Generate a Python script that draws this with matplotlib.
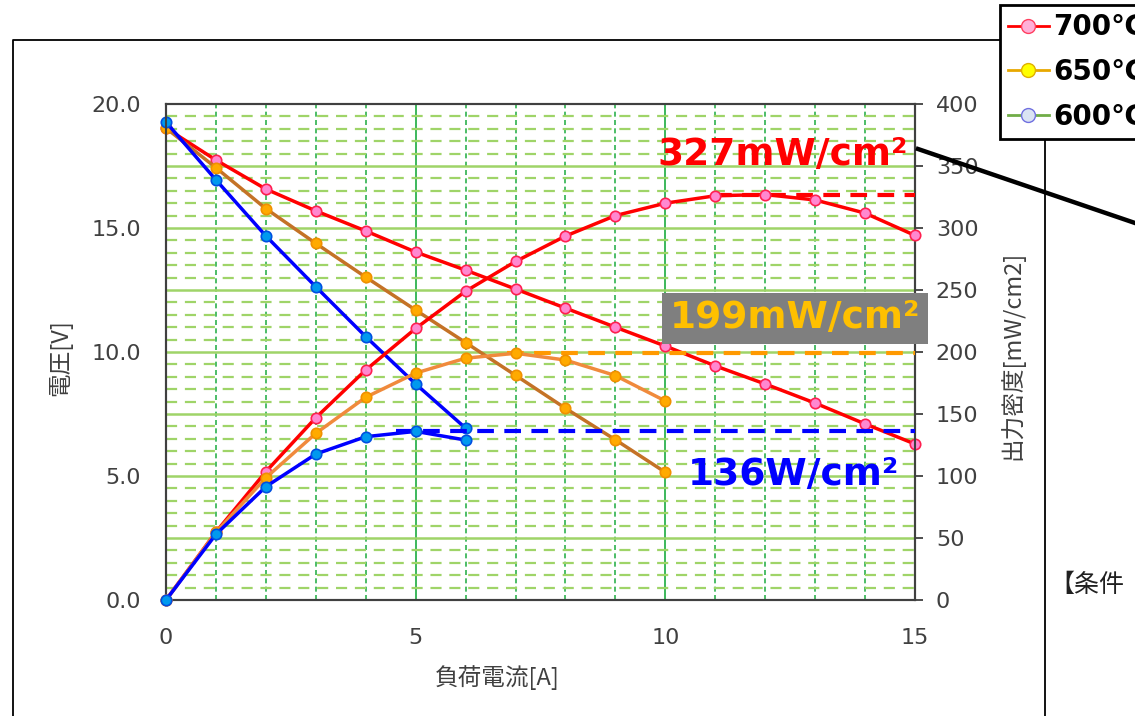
import numpy as np
import matplotlib
matplotlib.use("Agg")
import matplotlib.pyplot as plt
from matplotlib.lines import Line2D
from matplotlib.ticker import MultipleLocator, FormatStrFormatter

plt.rcParams['font.family'] = ['DejaVu Sans', 'Noto Sans CJK JP']
JP = ['Noto Sans CJK JP', 'DejaVu Sans']

# 負荷電流 [A]
current_700 = np.arange(0, 16)
current_650 = np.arange(0, 11)
current_600 = np.arange(0, 7)

# 電圧 [V]
volt_700 = [19.03, 17.74, 16.57, 15.69, 14.88, 14.03, 13.30, 12.54,
            11.77, 11.00, 10.24, 9.44, 8.71, 7.94, 7.10, 6.29]
volt_650 = [19.03, 17.43, 15.78, 14.38, 13.02, 11.69, 10.38, 9.06, 7.73, 6.46, 5.15]
volt_600 = [19.27, 16.94, 14.68, 12.63, 10.62, 8.71, 6.93]

# 出力密度 [mW/cm2]
power_700 = [0, 54.8, 103.5, 147, 185.5, 219, 249, 273,
             293.5, 310, 320, 326, 327, 322.6, 312, 294]
power_650 = [0, 54.5, 98.6, 134.4, 163.5, 183, 195, 199, 193.5, 181, 160.5]
power_600 = [0, 53, 91.4, 117.7, 131.7, 136, 129]

# 最大出力
peak_700 = 327
peak_650 = 199
peak_600 = 136

W, H = 1135, 716
fig = plt.figure(figsize=(W / 100, H / 100), dpi=100)
ax = fig.add_axes([166 / W, 1 - 600 / H, 749 / W, 496 / H])
ax2 = ax.twinx()

ax.set_xlim(0, 15)
ax.set_ylim(0, 20)
ax2.set_ylim(0, 400)

# grid
for v in np.arange(0.5, 20, 0.5):
    if abs(v / 2.5 - round(v / 2.5)) < 1e-6:
        ax.axhline(v, color='#9fd468', lw=1.8, zorder=1)
    else:
        ax.axhline(v, color='#9fd468', lw=1.6, ls=(0, (5, 3.5)), zorder=1)
ax.xaxis.set_major_locator(MultipleLocator(5))
ax.xaxis.set_minor_locator(MultipleLocator(1))
ax.yaxis.set_major_locator(MultipleLocator(5))
ax.grid(which='major', axis='x', color='#2db24e', lw=1.3)
ax.grid(which='minor', axis='x', color='#2db24e', lw=1.2, ls=(0, (3, 2)))
ax.set_axisbelow(True)
ax.yaxis.set_major_formatter(FormatStrFormatter('%.1f'))

ax2.yaxis.set_major_locator(MultipleLocator(50))

for a in (ax, ax2):
    for s in a.spines.values():
        s.set_color('#404040')
        s.set_linewidth(1.5)

ax.tick_params(axis='both', which='both', length=0, labelsize=16, labelcolor='#404040')
ax.tick_params(axis='y', pad=18)
ax.tick_params(axis='x', pad=20)
ax2.tick_params(axis='y', length=6, width=1.3, color='#404040', direction='out',
                labelsize=16, labelcolor='#404040', pad=9)

style_700 = dict(lw=2.5, marker='o', ms=7.5, mfc='#ff88d0', mec='#ff2050', mew=1.2,
                 clip_on=False, zorder=4)
style_650 = dict(lw=2.5, marker='o', ms=7.5, mfc='#ffaa00', mec='#f09000', mew=1.2,
                 clip_on=False, zorder=4)
style_600 = dict(lw=2.5, marker='o', ms=7.5, mfc='#0099ee', mec='#0050e0', mew=1.2,
                 clip_on=False, zorder=5)

# 電圧
ax.plot(current_700, volt_700, color='#ff0000', **style_700)
ax.plot(current_650, volt_650, color='#c47226', **style_650)
ax.plot(current_600, volt_600, color='#0000ff', **style_600)

# 出力密度
ax2.plot(current_700, power_700, color='#ff0000', **style_700)
ax2.plot(current_650, power_650, color='#f08a3c', **style_650)
ax2.plot(current_600, power_600, color='#0000ff', **style_600)

# 最大出力の目安線
ax2.plot([11, 15], [peak_700, peak_700], color='#ff0000', lw=3, ls=(0, (4, 2.5)), zorder=3)
ax2.plot([6.82, 15], [peak_650, peak_650], color='#ff9900', lw=3, ls=(0, (4, 2.5)), zorder=3)
ax2.plot([4.6, 15], [peak_600, peak_600], color='#0000ff', lw=3, ls=(0, (4, 2.5)), zorder=3)

ax2.text(9.85, 350.8, f'{peak_700}mW/cm²', color='#ff0000', fontsize=27,
         fontweight='bold', ha='left', va='baseline', zorder=6)
ax2.text(10.09, 219, f'{peak_650}mW/cm²', color='#ffc000', fontsize=27,
         fontweight='bold', ha='left', va='baseline', zorder=6,
         bbox=dict(boxstyle='square,pad=0.2', fc='#7f7f7f', ec='none'))
ax2.text(10.45, 92.7, f'{peak_600}W/cm²', color='#0000ff', fontsize=27,
         fontweight='bold', ha='left', va='baseline', zorder=6)

# 軸ラベル
fig.text(60 / W, 1 - 358 / H, '電圧[V]', rotation=90, ha='center', va='center',
         fontsize=17, color='#404040', family=JP)
fig.text(1012 / W, 1 - 355 / H, '出力密度[mW/cm2]', rotation=90, ha='center', va='center',
         fontsize=17, color='#404040', family=JP)
fig.text(497 / W, 1 - 678 / H, '負荷電流[A]', ha='center', va='center',
         fontsize=17, color='#404040', family=JP)
fig.text(1049 / W, 1 - 585 / H, '【条件', ha='left', va='center',
         fontsize=18, color='#202020', family=JP)

# 外枠と引き出し線
def px_line(xs, ys, **kw):
    fig.add_artist(Line2D([x / W for x in xs], [1 - y / H for y in ys],
                          transform=fig.transFigure, **kw))

px_line([13, 13, 1045, 1045], [H, 40, 40, H], color='black', lw=1.3)
px_line([918, 1135], [149, 223], color='black', lw=3.2)

# 凡例
handles = [
    Line2D([], [], color='#ff0000', lw=2, marker='o', ms=10, mfc='#ffb0d8', mec='#ff4060'),
    Line2D([], [], color='#e8a800', lw=2, marker='o', ms=10, mfc='#ffff00', mec='#e0b000'),
    Line2D([], [], color='#70ad47', lw=2, marker='o', ms=10, mfc='#dae3f3', mec='#7070e0'),
]
leg = fig.legend(handles, ['700℃', '650℃', '600℃'], loc='upper left',
                 bbox_to_anchor=(1000 / W, 1 - 5 / H), borderaxespad=0,
                 frameon=True, fancybox=False, framealpha=1, edgecolor='black',
                 prop={'size': 20, 'weight': 'bold'}, handlelength=1.45,
                 handletextpad=0.15, labelspacing=0.6, borderpad=0.3)
leg.get_frame().set_linewidth(2)

fig.savefig('out.png', dpi=100)
